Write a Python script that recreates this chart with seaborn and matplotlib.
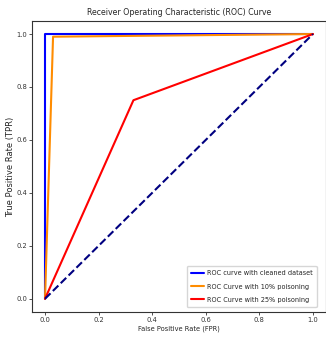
import matplotlib
matplotlib.use("Agg")
import matplotlib.pyplot as plt
import pandas as pd
import seaborn as sns

# ROC points
fpr_clean = [0.0, 0.0, 1.0]
tpr_clean = [0.0, 1.0, 1.0]
fpr_10 = [0.0, 0.03, 1.0]
tpr_10 = [0.0, 0.99, 1.0]
fpr_25 = [0.0, 0.33, 1.0]
tpr_25 = [0.0, 0.75, 1.0]
diag = [0.0, 1.0]

labels = ["ROC curve with cleaned dataset", "ROC Curve with 10% poisoning", "ROC Curve with 25% poisoning"]
colors = ["blue", "darkorange", "red"]

sns.set_style("ticks")
plt.rcParams['font.family'] = ['DejaVu Sans']
plt.rcParams['font.stretch'] = 'condensed'

fig = plt.figure(figsize=(3.26, 3.45), dpi=100)
ax = fig.add_axes([0.097, 0.0957, 0.904, 0.844])

for xs, ys, lab, col in zip([fpr_clean, fpr_10, fpr_25], [tpr_clean, tpr_10, tpr_25], labels, colors):
    df = pd.DataFrame({"fpr": xs, "tpr": ys})
    sns.lineplot(data=df, x="fpr", y="tpr", ax=ax, color=col, lw=1.5, label=lab,
                 sort=False, estimator=None)

ax.plot(diag, diag, color="navy", lw=1.5, linestyle="--")

ax.set_xlim(-0.05, 1.05)
ax.set_ylim(-0.05, 1.05)
ax.set_xticks([0, 0.2, 0.4, 0.6, 0.8, 1.0])
ax.set_yticks([0, 0.2, 0.4, 0.6, 0.8, 1.0])
ax.tick_params(labelsize=5.4, length=2, width=0.6, colors="#333333", pad=1.4)
for s in ax.spines.values():
    s.set_linewidth(0.8)
    s.set_color("#333333")
ax.set_xlabel("False Positive Rate (FPR)", fontsize=5.3, labelpad=2)
ax.set_ylabel("True Positive Rate (TPR)", fontsize=6.0, fontstretch='normal', labelpad=1)
ax.set_title("Receiver Operating Characteristic (ROC) Curve", fontsize=6.3, pad=4)
ax.legend(loc="lower right", fontsize=5.2, handlelength=1.8, handletextpad=0.4,
          borderpad=0.6, labelspacing=0.98, borderaxespad=0,
          bbox_to_anchor=(0.968, 0.017))

fig.savefig("out.png", dpi=100)
